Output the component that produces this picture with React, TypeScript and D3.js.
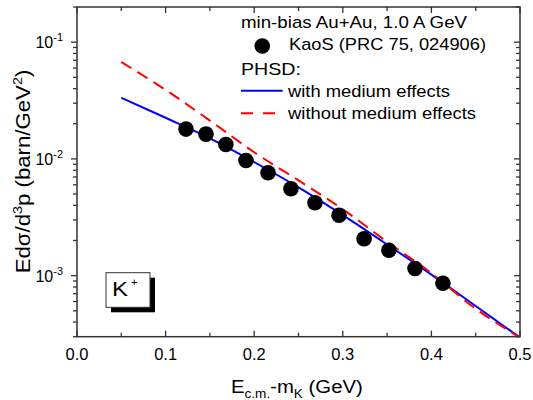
import React from "react";
import * as d3 from "d3";

const dataX = [0.123, 0.1456, 0.168, 0.1907, 0.2156, 0.2415, 0.2686, 0.2957, 0.324, 0.352, 0.3815, 0.413];
const dataY = [0.018, 0.0163, 0.0133, 0.00968, 0.0076, 0.00555, 0.00421, 0.00329, 0.00207, 0.00165, 0.00115, 0.00086];

const curveX = [0.05, 0.1, 0.15, 0.2, 0.25, 0.3, 0.35, 0.4, 0.45, 0.5];
const withMedium = [0.0334, 0.0225, 0.015, 0.0094, 0.0057, 0.0033, 0.00185, 0.00102, 0.00055, 0.000295];
const withoutMedium = [0.0676, 0.039, 0.0213, 0.0114, 0.00655, 0.0037, 0.00195, 0.00105, 0.00052, 0.000295];

const xTicks = [0, 0.1, 0.2, 0.3, 0.4, 0.5];
const xMinor = [0.05, 0.15, 0.25, 0.35, 0.45];
const yDecades = [-1, -2, -3];

const FONT = "'Liberation Sans', Arial, sans-serif";

export default function App() {
  const left = 77, right = 520, top = 7, bottom = 336.7;
  const x = d3.scaleLinear().domain([0, 0.5]).range([left, right]);
  const y = d3.scaleLog().domain([3e-4, 0.2]).range([bottom, top]);

  const minorY: number[] = [];
  for (let e = -4; e <= -1; e++) {
    for (let m = 2; m <= 9; m++) {
      const v = m * Math.pow(10, e);
      if (v >= 3e-4 && v <= 0.2) minorY.push(v);
    }
  }
  const line = d3
    .line<[number, number]>()
    .x((d) => x(d[0]))
    .y((d) => y(d[1]))
    .curve(d3.curveMonotoneX);
  const blue = line(curveX.map((v, i) => [v, withMedium[i]] as [number, number])) || "";
  const red = line(curveX.map((v, i) => [v, withoutMedium[i]] as [number, number])) || "";

  const maj = 6, mnr = 4;
  const axisColor = "#333";

  return (
    <svg width={533} height={400} style={{ position: "absolute", left: 0, top: 0, background: "#fff" }} fontFamily={FONT}>
      <defs>
        <clipPath id="clip">
          <rect x={left} y={top} width={right - left} height={bottom - top} />
        </clipPath>
      </defs>
      <rect x={0} y={0} width={533} height={400} fill="#fff" />
      {/* curves */}
      <g clipPath="url(#clip)">
        <path d={blue} fill="none" stroke="#0000ff" strokeWidth={2} />
        <path d={red} fill="none" stroke="#ff0000" strokeWidth={2} strokeDasharray="12,7" />
      </g>
      {/* data */}
      {dataX.map((v, i) => (
        <circle key={i} cx={x(v)} cy={y(dataY[i])} r={7.8} fill="#000" />
      ))}
      {/* frame */}
      <rect x={left} y={top} width={right - left} height={bottom - top} fill="none" stroke={axisColor} strokeWidth={1.5} />
      {/* x ticks */}
      {xTicks.map((t) => (
        <g key={"xt" + t}>
          <line x1={x(t)} x2={x(t)} y1={bottom} y2={bottom - maj} stroke={axisColor} strokeWidth={1.3} />
          <line x1={x(t)} x2={x(t)} y1={top} y2={top + maj} stroke={axisColor} strokeWidth={1.3} />
          <text x={x(t)} y={360} textAnchor="middle" fontSize={16.5} fill="#000">
            {t.toFixed(1)}
          </text>
        </g>
      ))}
      {xMinor.map((t) => (
        <g key={"xm" + t}>
          <line x1={x(t)} x2={x(t)} y1={bottom} y2={bottom - mnr} stroke={axisColor} strokeWidth={1.3} />
          <line x1={x(t)} x2={x(t)} y1={top} y2={top + mnr} stroke={axisColor} strokeWidth={1.3} />
        </g>
      ))}
      {/* y ticks */}
      {yDecades.map((e) => {
        const v = Math.pow(10, e);
        return (
          <g key={"yt" + e}>
            <line x1={left} x2={left - maj} y1={y(v)} y2={y(v)} stroke={axisColor} strokeWidth={1.3} />
            <line x1={right} x2={right - maj} y1={y(v)} y2={y(v)} stroke={axisColor} strokeWidth={1.3} />
            <text x={63} y={y(v) + 6} textAnchor="end" fontSize={16} fill="#000">
              10<tspan dy={-7} fontSize={11}>{e}</tspan>
            </text>
          </g>
        );
      })}
      {minorY.map((v) => (
        <g key={"ym" + v}>
          <line x1={left} x2={left - mnr} y1={y(v)} y2={y(v)} stroke={axisColor} strokeWidth={1.3} />
          <line x1={right} x2={right - mnr} y1={y(v)} y2={y(v)} stroke={axisColor} strokeWidth={1.3} />
        </g>
      ))}
      {/* axis titles */}
      <g transform="translate(231,392.5) scale(1.13,1)">
        <text x={0} y={0} fontSize={18} fill="#000">
          E<tspan dy={5} fontSize={12}>c.m.</tspan>
          <tspan dy={-5}>-m</tspan>
          <tspan dy={5} fontSize={12}>K</tspan>
          <tspan dy={-5}> (GeV)</tspan>
        </text>
      </g>
      <g transform={`translate(30,${171.5}) rotate(-90) scale(1.11,1)`}>
        <text x={0} y={0} textAnchor="middle" fontSize={20} fill="#000">
          Edσ/d<tspan dy={-8} fontSize={13}>3</tspan>
          <tspan dy={8}>p (barn/GeV</tspan>
          <tspan dy={-8} fontSize={13}>2</tspan>
          <tspan dy={8}>)</tspan>
        </text>
      </g>
      {/* legend */}
      <g fontSize={17} fill="#000">
        <text x={241} y={28.3} textLength={226} lengthAdjust="spacingAndGlyphs">min-bias Au+Au, 1.0 A GeV</text>
        <circle cx={262.3} cy={46} r={7.8} fill="#000" />
        <text x={289} y={50} textLength={197} lengthAdjust="spacingAndGlyphs">KaoS (PRC 75, 024906)</text>
        <text x={241} y={75} textLength={60} lengthAdjust="spacingAndGlyphs">PHSD:</text>
        <line x1={241} x2={282.7} y1={90.7} y2={90.7} stroke="#0000ff" strokeWidth={2} />
        <text x={288} y={96.7} textLength={162} lengthAdjust="spacingAndGlyphs">with medium effects</text>
        <line x1={241} x2={275} y1={113.3} y2={113.3} stroke="#ff0000" strokeWidth={2} strokeDasharray="12,10" />
        <text x={288} y={119} textLength={188} lengthAdjust="spacingAndGlyphs">without medium effects</text>
      </g>
      {/* K+ box */}
      <rect x={111} y={277.7} width={44} height={34.6} fill="#000" />
      <rect x={106} y={272.7} width={44} height={34.6} fill="#fff" stroke="#333" strokeWidth={1} />
      <g transform="translate(112,296) scale(1.2,1)">
        <text x={0} y={0} fontSize={20} fill="#000">K</text>
      </g>
      <text x={131} y={286} fontSize={11} fill="#000">
        +
      </text>
    </svg>
  );
}
